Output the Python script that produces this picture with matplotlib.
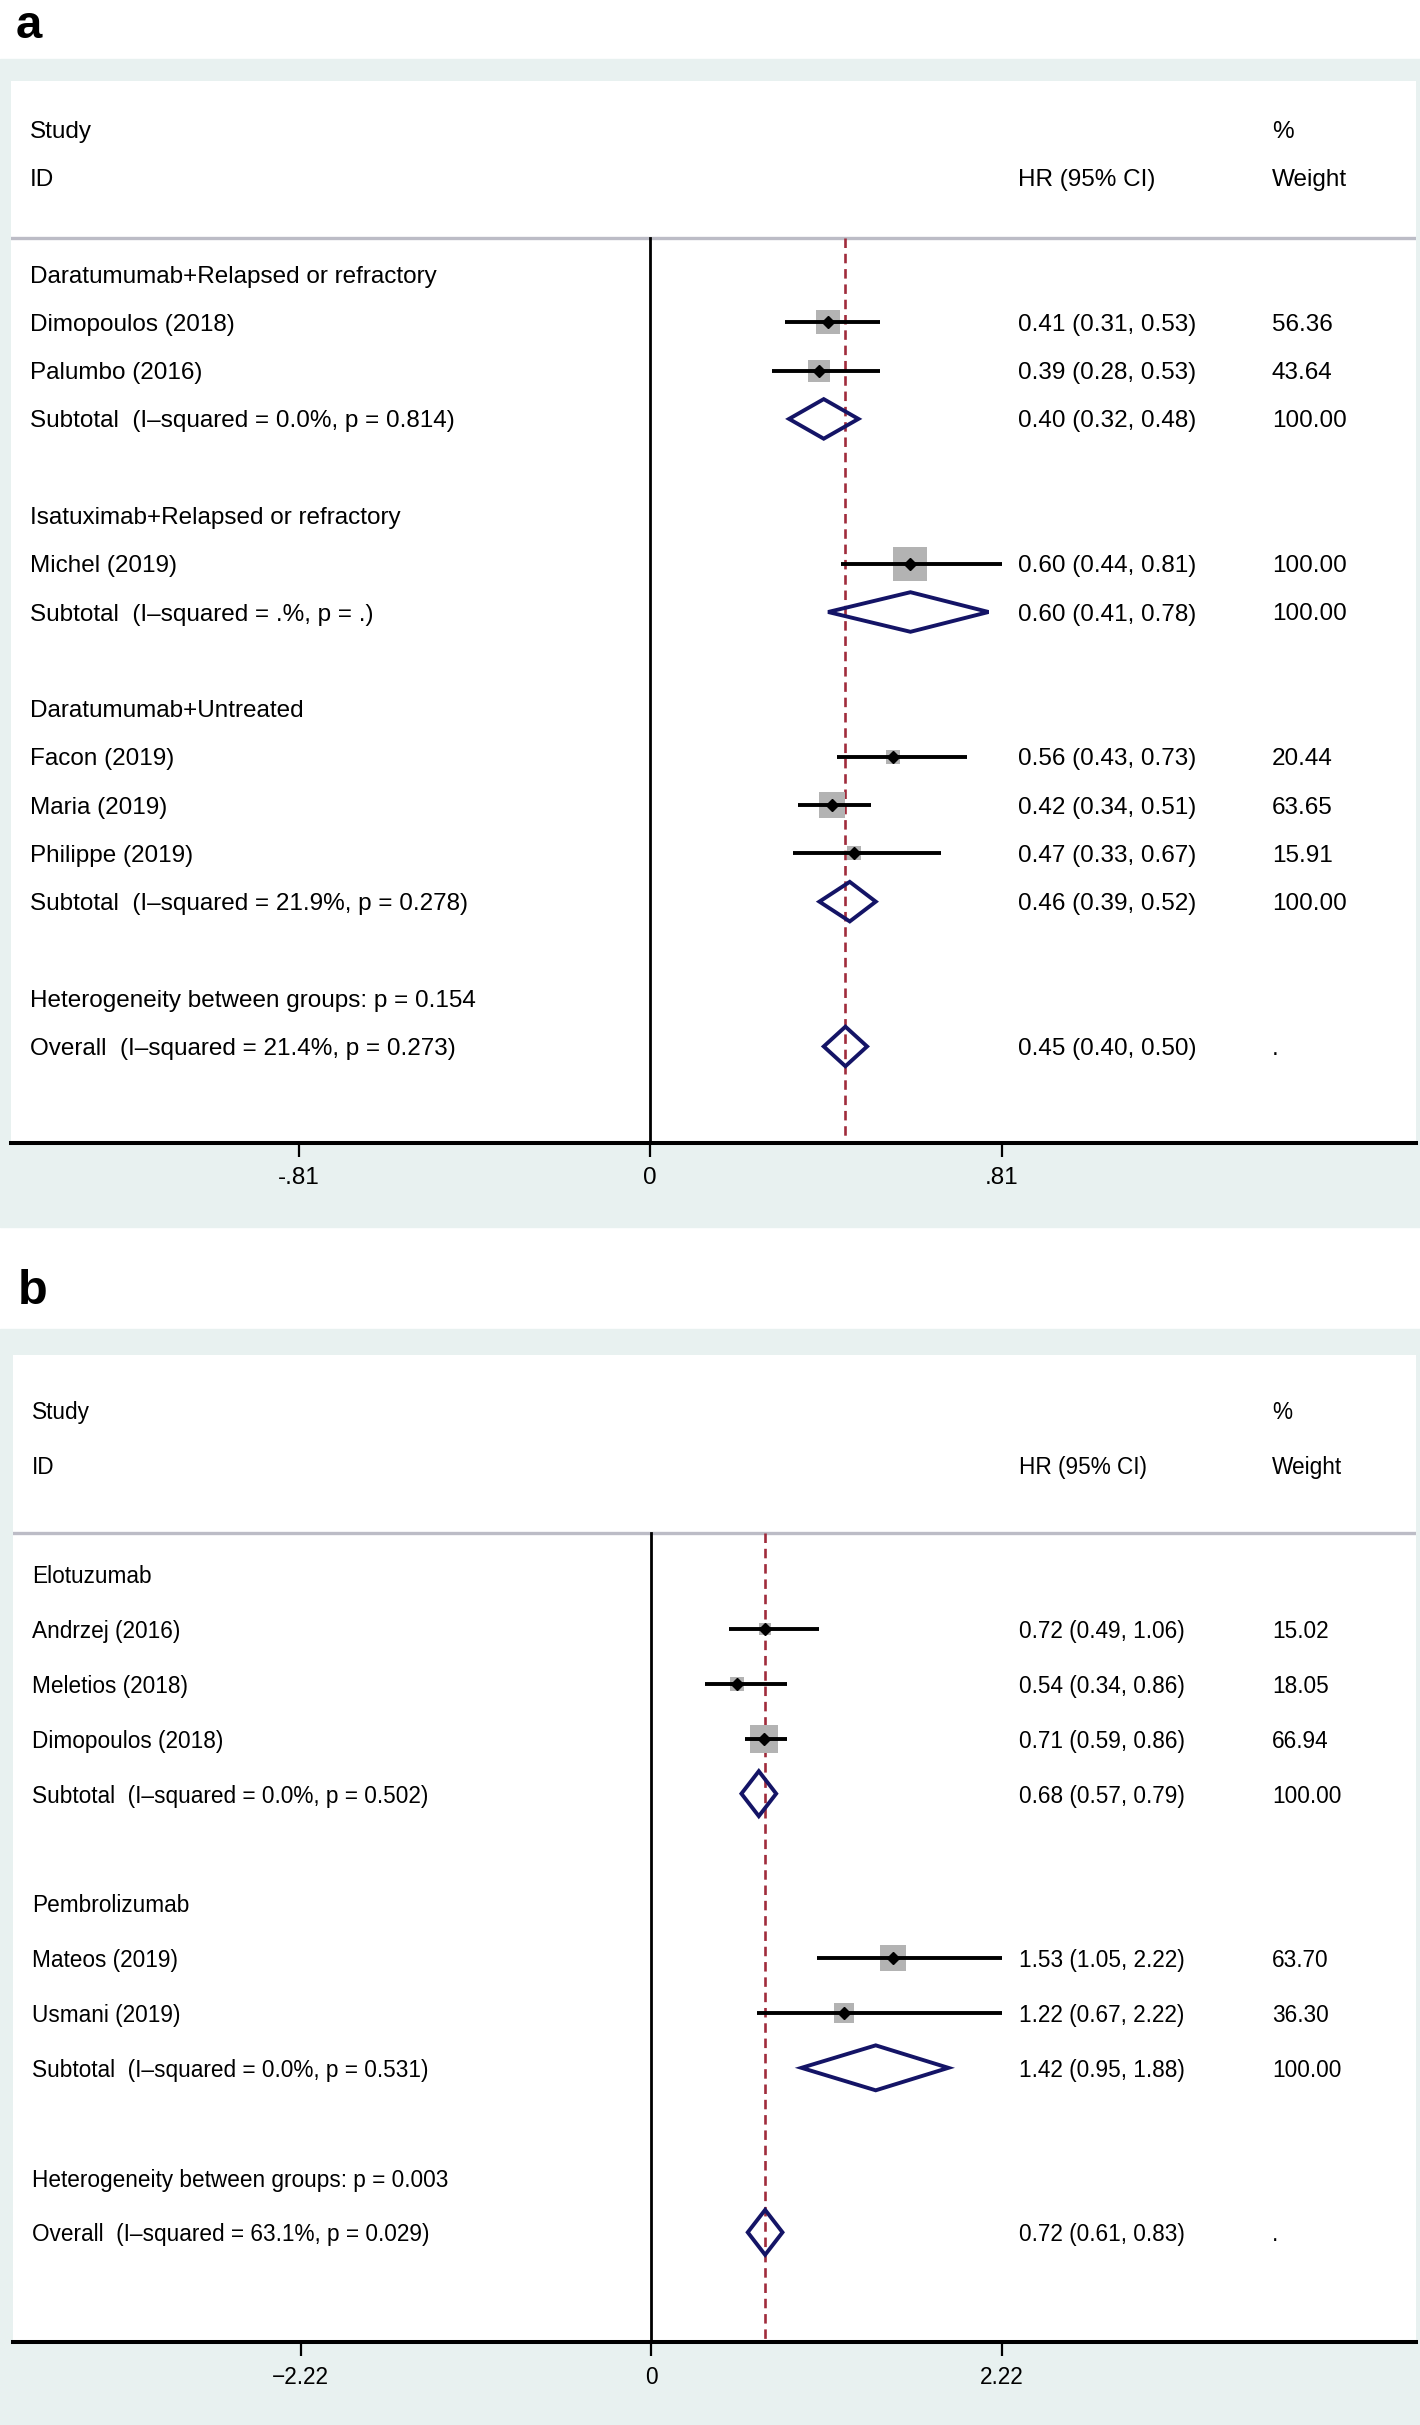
import numpy as np
import matplotlib.pyplot as plt
import matplotlib.transforms as mtransforms
from matplotlib.patches import Rectangle, Polygon

plt.rcParams['font.family'] = ['Liberation Sans', 'DejaVu Sans']

# ---- panel a data
groups_a = ["Daratumumab+Relapsed or refractory", "Isatuximab+Relapsed or refractory",
            "Daratumumab+Untreated"]
studies_a = ["Dimopoulos (2018)", "Palumbo (2016)", "Michel (2019)",
             "Facon (2019)", "Maria (2019)", "Philippe (2019)"]
group_of_a = [0, 0, 1, 2, 2, 2]
hr_a = [0.41, 0.39, 0.60, 0.56, 0.42, 0.47]
lo_a = [0.31, 0.28, 0.44, 0.43, 0.34, 0.33]
hi_a = [0.53, 0.53, 0.81, 0.73, 0.51, 0.67]
weight_a = [56.36, 43.64, 100.00, 20.44, 63.65, 15.91]
sub_hr_a = [0.40, 0.60, 0.46]
sub_lo_a = [0.32, 0.41, 0.39]
sub_hi_a = [0.48, 0.78, 0.52]
sub_text_a = ["Subtotal  (I\u2013squared = 0.0%, p = 0.814)",
              "Subtotal  (I\u2013squared = .%, p = .)",
              "Subtotal  (I\u2013squared = 21.9%, p = 0.278)"]
het_text_a = "Heterogeneity between groups: p = 0.154"
overall_text_a = "Overall  (I\u2013squared = 21.4%, p = 0.273)"
overall_a = [0.45, 0.40, 0.50]
ticklabels_a = ["-.81", "0", ".81"]

# ---- panel b data
groups_b = ["Elotuzumab", "Pembrolizumab"]
studies_b = ["Andrzej (2016)", "Meletios (2018)", "Dimopoulos (2018)",
             "Mateos (2019)", "Usmani (2019)"]
group_of_b = [0, 0, 0, 1, 1]
hr_b = [0.72, 0.54, 0.71, 1.53, 1.22]
lo_b = [0.49, 0.34, 0.59, 1.05, 0.67]
hi_b = [1.06, 0.86, 0.86, 2.22, 2.22]
weight_b = [15.02, 18.05, 66.94, 63.70, 36.30]
sub_hr_b = [0.68, 1.42]
sub_lo_b = [0.57, 0.95]
sub_hi_b = [0.79, 1.88]
sub_text_b = ["Subtotal  (I\u2013squared = 0.0%, p = 0.502)",
              "Subtotal  (I\u2013squared = 0.0%, p = 0.531)"]
het_text_b = "Heterogeneity between groups: p = 0.003"
overall_text_b = "Overall  (I\u2013squared = 63.1%, p = 0.029)"
overall_b = [0.72, 0.61, 0.83]
ticklabels_b = ["\u22122.22", "0", "2.22"]

W, H = 1420, 2425
fig = plt.figure(figsize=(W / 100, H / 100), dpi=100)
teal = '#e8f1f0'
navy = '#141466'
dashred = '#a02c3c'


def px_box(x0, y0, x1, y1):
    # pixel box (top-left origin) -> figure fraction rect
    return [x0 / W, 1 - y1 / H, (x1 - x0) / W, (y1 - y0) / H]


def diamond(ax, c, l, h, y):
    d = 0.41
    ax.add_patch(Polygon([[l, y], [c, y - d], [h, y], [c, y + d]], closed=True,
                         fill=False, edgecolor=navy, lw=2.8, zorder=4, joinstyle='miter'))


def forest(ax, groups, studies, group_of, hr, lo, hi, wt, s_hr, s_lo, s_hi, s_txt,
           het_txt, ov_txt, ov, ticklabels, fs):
    tr = mtransforms.blended_transform_factory(ax.transAxes, ax.transData)
    xl, xc, xw = 0.0135, 0.717, 0.8975
    kw = dict(transform=tr, va='center_baseline', fontsize=fs)
    row = 0
    for g, gname in enumerate(groups):
        ax.text(xl, row, gname, **kw)
        row += 1
        for i in [k for k in range(len(studies)) if group_of[k] == g]:
            ax.text(xl, row, studies[i], **kw)
            ax.scatter(hr[i], row, s=565 * wt[i] / 100, marker='s', color='#b3b3b3',
                       linewidths=0, zorder=3)
            ax.plot([lo[i], hi[i]], [row, row], color='black', lw=2.8,
                    solid_capstyle='butt', zorder=4)
            ax.plot(hr[i], row, marker='D', ms=6.5, color='black', zorder=5)
            ax.text(xc, row, f"{hr[i]:.2f} ({lo[i]:.2f}, {hi[i]:.2f})", **kw)
            ax.text(xw, row, f"{wt[i]:.2f}", **kw)
            row += 1
        ax.text(xl, row, s_txt[g], **kw)
        diamond(ax, s_hr[g], s_lo[g], s_hi[g], row)
        ax.text(xc, row, f"{s_hr[g]:.2f} ({s_lo[g]:.2f}, {s_hi[g]:.2f})", **kw)
        ax.text(xw, row, "100.00", **kw)
        row += 2
    ax.text(xl, row, het_txt, **kw)
    row += 1
    ax.text(xl, row, ov_txt, **kw)
    diamond(ax, ov[0], ov[1], ov[2], row)
    ax.text(xc, row, f"{ov[0]:.2f} ({ov[1]:.2f}, {ov[2]:.2f})", **kw)
    ax.text(xw, row, ".", **kw)
    bottom = row + 2

    # header
    ax.text(xl, -3, "Study", **kw)
    ax.text(xw, -3, "%", **kw)
    ax.text(xl, -2, "ID", **kw)
    ax.text(xc, -2, "HR (95% CI)", **kw)
    ax.text(xw, -2, "Weight", **kw)
    ax.axhline(-0.75, color='#bcbcc6', lw=2.4, zorder=2)

    ax.plot([0, 0], [-0.75, bottom], color='black', lw=2.0, zorder=2)
    ax.plot([ov[0], ov[0]], [-0.75, bottom], color=dashred, lw=1.9,
            dashes=(3.6, 2.2), zorder=2)

    t = max(hi)
    ax.set_xlim(-1.82 * t, 2.18 * t)
    ax.set_ylim(bottom, -4)
    ax.set_xticks([-t, 0, t])
    ax.set_xticklabels(ticklabels, fontsize=fs)
    ax.set_yticks([])
    for s in ['left', 'right', 'top']:
        ax.spines[s].set_visible(False)
    ax.spines['bottom'].set_linewidth(2.9)
    ax.tick_params(axis='x', direction='out', length=10, width=1.6, pad=7)
    ax.set_facecolor('white')


fig.patches.append(Rectangle((0, 1 - 1227 / H), 1, (1227 - 59) / H,
                             transform=fig.transFigure, color=teal, zorder=-10))
fig.patches.append(Rectangle((0, 0), 1, (H - 1329) / H,
                             transform=fig.transFigure, color=teal, zorder=-10))

ax_a = fig.add_axes(px_box(11, 81, 1416, 1143))
forest(ax_a, groups_a, studies_a, group_of_a, hr_a, lo_a, hi_a, weight_a,
       sub_hr_a, sub_lo_a, sub_hi_a, sub_text_a, het_text_a, overall_text_a,
       overall_a, ticklabels_a, 17.5)

ax_b = fig.add_axes(px_box(13, 1355, 1416, 2342))
forest(ax_b, groups_b, studies_b, group_of_b, hr_b, lo_b, hi_b, weight_b,
       sub_hr_b, sub_lo_b, sub_hi_b, sub_text_b, het_text_b, overall_text_b,
       overall_b, ticklabels_b, 16.3)

fig.text(16 / W, 1 - 38 / H, "a", fontsize=34, fontweight='bold', va='baseline')
fig.text(18 / W, 1 - 1304 / H, "b", fontsize=35, fontweight='bold', va='baseline')

fig.savefig('out.png', dpi=100, facecolor='white')
